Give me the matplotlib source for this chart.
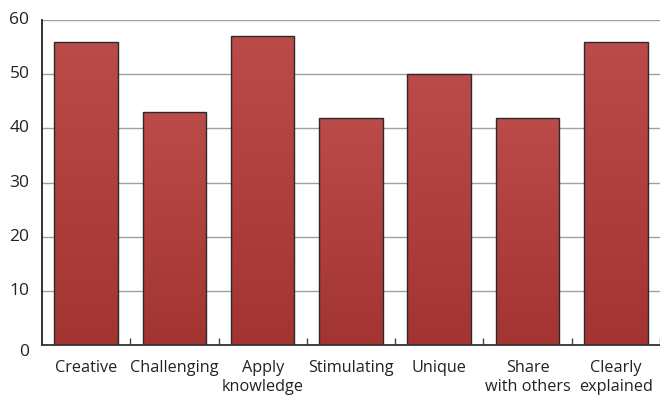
import matplotlib
matplotlib.use("Agg")
import matplotlib.pyplot as plt
import numpy as np
from matplotlib.colors import LinearSegmentedColormap
from matplotlib.transforms import ScaledTranslation

categories = ["Creative", "Challenging", "Apply\nknowledge", "Stimulating",
              "Unique", "Share\nwith others", "Clearly\nexplained"]
values = [56, 43, 57, 42, 50, 42, 56]

plt.rcParams["font.family"] = ["Open Sans", "DejaVu Sans"]

fig = plt.figure(figsize=(6.6, 3.96), dpi=100)
ax = fig.add_axes([0.0636, 0.129, 0.9364, 0.82])

x = np.arange(len(categories))
width = 0.72
grad = LinearSegmentedColormap.from_list("bar", ["#a23432", "#bb4b49"])
ramp = np.linspace(0, 1, 256).reshape(-1, 1)

bars = ax.bar(x, values, width=width, facecolor="none", edgecolor="#2a2a2a",
              linewidth=1.0, zorder=3)
for b in bars:
    x0, y0, w, h = b.get_x(), b.get_y(), b.get_width(), b.get_height()
    im = ax.imshow(ramp, cmap=grad, origin="lower", aspect="auto",
                   extent=(x0, x0 + w, y0, y0 + h), zorder=2)
    im.set_clip_path(b)

ax.set_xlim(-0.5, len(categories) - 0.5)
ax.set_ylim(0, 60)
ax.set_yticks(range(0, 61, 10))
ax.yaxis.grid(True, color="#a0a0a0", linewidth=1.0)
ax.set_axisbelow(True)

ax.set_xticks(x)
ax.set_xticklabels(categories, fontsize=11.7, color="#222222", linespacing=1.22)
ax.tick_params(axis="x", length=0, pad=11)
ax.set_xticks(np.arange(len(categories)) + 0.5, minor=True)
ax.tick_params(axis="x", which="minor", direction="in", length=5,
               width=1.0, color="#444444")
ax.tick_params(axis="y", length=0, labelsize=12.5, colors="#222222", pad=9)
for t in ax.get_yticklabels():
    t.set_verticalalignment("center")
ylabs = ax.get_yticklabels()
ylabs[0].set_transform(ylabs[0].get_transform()
                       + ScaledTranslation(0, -0.07, fig.dpi_scale_trans))

for s in ["top", "right"]:
    ax.spines[s].set_visible(False)
ax.spines["left"].set_color("#222222")
ax.spines["left"].set_linewidth(1.3)
ax.spines["bottom"].set_color("#333333")
ax.spines["bottom"].set_linewidth(1.3)
ax.spines["bottom"].set_zorder(4)

fig.savefig("out.png", dpi=100)
